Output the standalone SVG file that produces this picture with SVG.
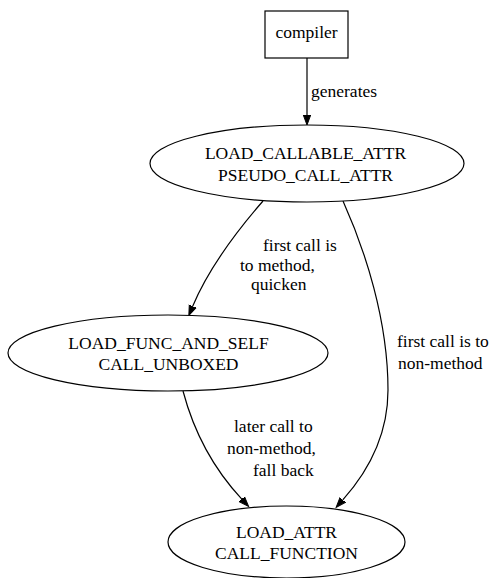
<svg xmlns="http://www.w3.org/2000/svg" width="493" height="578" viewBox="0 0 493 578">
<style>
.n{fill:#fff;stroke:#000;stroke-width:1.2}
.t{font-family:"Liberation Serif","Times New Roman",serif;font-size:17.5px;fill:#000}
.m{text-anchor:middle}
.e{fill:none;stroke:#000;stroke-width:1.2;marker-end:url(#a)}
</style>
<defs>
<marker id="a" markerUnits="userSpaceOnUse" markerWidth="12" markerHeight="10" refX="0" refY="4" orient="auto" viewBox="0 -1 12 10">
<path d="M0,0.3 L10,4 L0,7.7 z" fill="#000" stroke="#000" stroke-width="1"/>
</marker>
</defs>
<rect width="493" height="578" fill="#fff"/>
<g id="edges">
<path class="e" d="M307,58 L307,115"/>
<text class="t" x="311" y="97">generates</text>
<path class="e" d="M263,201 C243,224 210,265 192.7,306.2"/>
<text class="t" x="263" y="251">first call is</text>
<text class="t" x="240" y="271">to method,</text>
<text class="t" x="251" y="290">quicken</text>
<path class="e" d="M343,201 C365,250 388,320 388,390 C388,440 365,475 342.8,499.9"/>
<text class="t" x="397" y="347">first call is to</text>
<text class="t" x="398" y="369">non-method</text>
<path class="e" d="M183,391 C192,425 210,465 241.8,499.1"/>
<text class="t" x="234" y="432">later call to</text>
<text class="t" x="227" y="454">non-method,</text>
<text class="t" x="253" y="476">fall back</text>
</g>
<g id="compiler">
<rect class="n" x="265" y="11" width="83" height="47"/>
<text class="t m" x="306.5" y="38">compiler</text>
</g>
<g id="load_callable_attr">
<ellipse class="n" cx="307" cy="163.5" rx="157" ry="38.5"/>
<text class="t m" x="305.5" y="159">LOAD_CALLABLE_ATTR</text>
<text class="t m" x="305.5" y="181">PSEUDO_CALL_ATTR</text>
</g>
<g id="load_func_and_self">
<ellipse class="n" cx="168" cy="353" rx="160" ry="38"/>
<text class="t m" x="168.5" y="349">LOAD_FUNC_AND_SELF</text>
<text class="t m" x="168.5" y="370">CALL_UNBOXED</text>
</g>
<g id="load_attr">
<ellipse class="n" cx="286.5" cy="542" rx="118.5" ry="36"/>
<text class="t m" x="286.5" y="538">LOAD_ATTR</text>
<text class="t m" x="286.5" y="559">CALL_FUNCTION</text>
</g>
</svg>
